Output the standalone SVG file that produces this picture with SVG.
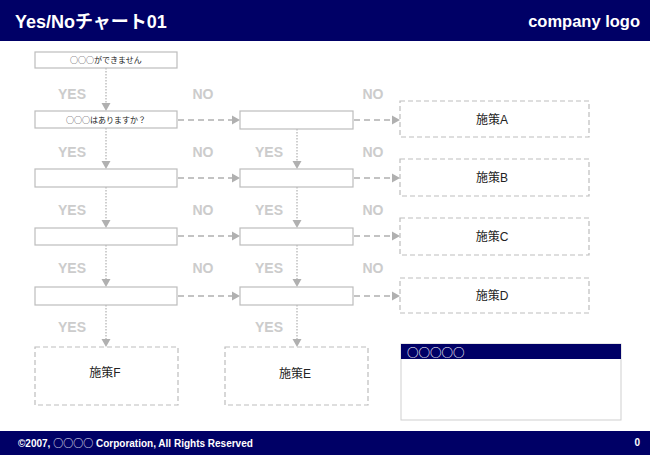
<svg xmlns="http://www.w3.org/2000/svg" width="650" height="455" viewBox="0 0 650 455">
<style>
.bar{fill:#000066}
.hd{font-family:"Liberation Sans","Noto Sans CJK JP",Arial,sans-serif;font-weight:bold;fill:#fff}
.box{fill:#fff;stroke:#bdbdbd;stroke-width:1.2}
.dbox{fill:#fff;stroke:#bdbdbd;stroke-width:1.2;stroke-dasharray:5 3}
.t{font-family:"Liberation Sans","Noto Sans CJK JP",sans-serif;fill:#222;text-anchor:middle}
.cj{font-family:"Noto Sans CJK JP",sans-serif}
.lbl{font-family:"Liberation Sans","Noto Sans CJK JP",sans-serif;font-weight:bold;font-size:14px;fill:#cccccc;text-anchor:middle}
.v{stroke:#b0b0b0;stroke-width:1.2;stroke-dasharray:1.5 1.5;fill:none}
.h{stroke:#b0b0b0;stroke-width:1.6;stroke-dasharray:6 4;fill:none}
.ah{fill:#b0b0b0}
</style>
<defs>
<path id="down" d="M-4.5,-8 L4.5,-8 L0,0 Z"/>
<path id="right" d="M-8,-4.5 L-8,4.5 L0,0 Z"/>
</defs>
<g id="header">
<rect class="bar" x="0" y="0" width="650" height="41"/>
<text class="hd" x="15" y="28" font-size="18">Yes/Noチャート01</text>
<text class="hd" x="640" y="27" font-size="16.5" text-anchor="end">company logo</text>
</g>
<g id="footer">
<rect class="bar" x="0" y="431" width="650" height="24"/>
<text class="hd" x="18" y="447" font-size="10">©2007, <tspan class="cj" font-weight="normal">○○○○</tspan> Corporation, All Rights Reserved</text>
<text class="hd" x="640" y="446" font-size="10" text-anchor="end">0</text>
</g>
<g id="labels">
<text class="lbl" x="72" y="99">YES</text>
<text class="lbl" x="203" y="99">NO</text>
<text class="lbl" x="373" y="99">NO</text>
<text class="lbl" x="72" y="157">YES</text>
<text class="lbl" x="203" y="157">NO</text>
<text class="lbl" x="269" y="157">YES</text>
<text class="lbl" x="373" y="157">NO</text>
<text class="lbl" x="72" y="215">YES</text>
<text class="lbl" x="203" y="215">NO</text>
<text class="lbl" x="269" y="215">YES</text>
<text class="lbl" x="373" y="215">NO</text>
<text class="lbl" x="72" y="273">YES</text>
<text class="lbl" x="203" y="273">NO</text>
<text class="lbl" x="269" y="273">YES</text>
<text class="lbl" x="373" y="273">NO</text>
<text class="lbl" x="72" y="332">YES</text>
<text class="lbl" x="269" y="332">YES</text>
</g>
<g id="connectors">
<path class="v" d="M106,68 V103"/><use href="#down" class="ah" x="106" y="111"/>
<path class="v" d="M106,128 V161"/><use href="#down" class="ah" x="106" y="169"/>
<path class="v" d="M106,187 V220"/><use href="#down" class="ah" x="106" y="228"/>
<path class="v" d="M106,245 V279"/><use href="#down" class="ah" x="106" y="287"/>
<path class="v" d="M106,305 V339"/><use href="#down" class="ah" x="106" y="347"/>
<path class="v" d="M297,129 V161"/><use href="#down" class="ah" x="297" y="169"/>
<path class="v" d="M297,187 V220"/><use href="#down" class="ah" x="297" y="228"/>
<path class="v" d="M297,245 V279"/><use href="#down" class="ah" x="297" y="287"/>
<path class="v" d="M297,305 V339"/><use href="#down" class="ah" x="297" y="347"/>
<path class="h" d="M178,120 H232"/><use href="#right" class="ah" x="240" y="120"/>
<path class="h" d="M178,178 H232"/><use href="#right" class="ah" x="240" y="178"/>
<path class="h" d="M178,236 H232"/><use href="#right" class="ah" x="240" y="236"/>
<path class="h" d="M178,296 H232"/><use href="#right" class="ah" x="240" y="296"/>
<path class="h" d="M354,120 H392"/><use href="#right" class="ah" x="400" y="120"/>
<path class="h" d="M354,178 H392"/><use href="#right" class="ah" x="400" y="178"/>
<path class="h" d="M354,236 H392"/><use href="#right" class="ah" x="400" y="236"/>
<path class="h" d="M354,296 H392"/><use href="#right" class="ah" x="400" y="296"/>
</g>
<g id="q1"><rect class="box" x="35" y="52" width="142" height="16"/><text class="t cj" x="106" y="63" font-size="8">○○○ができません</text></g>
<g id="q2"><rect class="box" x="35" y="111" width="142" height="17"/><text class="t cj" x="106" y="123" font-size="8">○○○はありますか？</text></g>
<g id="q3"><rect class="box" x="35" y="169" width="142" height="18"/></g>
<g id="q4"><rect class="box" x="35" y="228" width="142" height="17"/></g>
<g id="q5"><rect class="box" x="35" y="287" width="142" height="18"/></g>
<g id="m1"><rect class="box" x="240" y="111" width="113" height="18"/></g>
<g id="m2"><rect class="box" x="240" y="169" width="113" height="18"/></g>
<g id="m3"><rect class="box" x="240" y="228" width="113" height="17"/></g>
<g id="m4"><rect class="box" x="240" y="287" width="113" height="18"/></g>
<g id="resA"><rect class="dbox" x="400" y="101" width="189" height="36"/><text class="t" x="492" y="124" font-size="12">施策A</text></g>
<g id="resB"><rect class="dbox" x="400" y="159" width="189" height="37"/><text class="t" x="492" y="182" font-size="12">施策B</text></g>
<g id="resC"><rect class="dbox" x="400" y="218" width="189" height="37"/><text class="t" x="492" y="241" font-size="12">施策C</text></g>
<g id="resD"><rect class="dbox" x="400" y="278" width="189" height="35"/><text class="t" x="492" y="300" font-size="12">施策D</text></g>
<g id="resF"><rect class="dbox" x="35" y="347" width="143" height="58"/><text class="t" x="105" y="377" font-size="12">施策F</text></g>
<g id="resE"><rect class="dbox" x="225" y="347" width="143" height="58"/><text class="t" x="295" y="378" font-size="12">施策E</text></g>
<g id="legend">
<rect x="401" y="344" width="220" height="76" fill="#fff" stroke="#cfcfcf" stroke-width="1"/>
<rect class="bar" x="401" y="344" width="220" height="15"/>
<text class="hd cj" x="407" y="356.5" font-size="11.5" font-weight="normal">○○○○○</text>
</g>
</svg>
